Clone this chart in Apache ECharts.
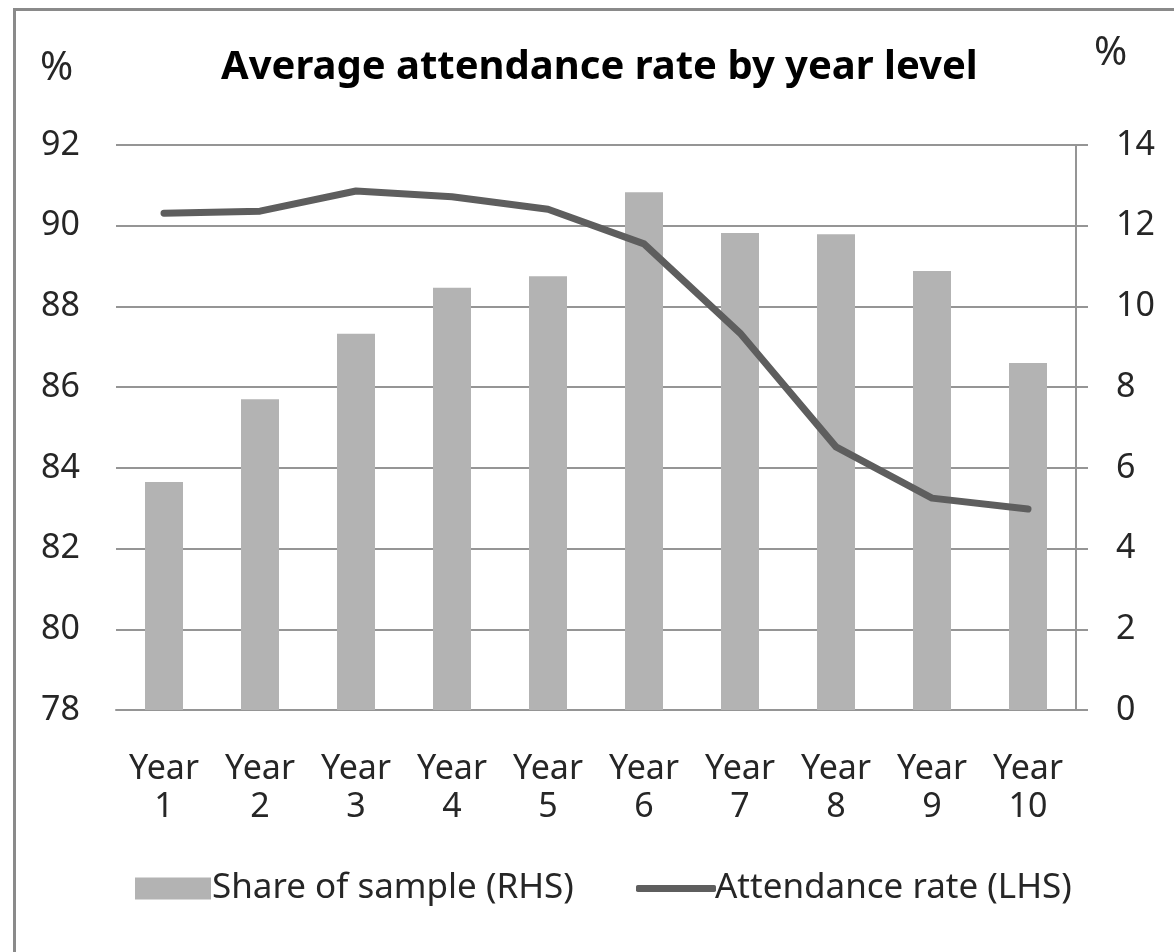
<!DOCTYPE html>
<html>
<head>
<meta charset="utf-8">
<script src="https://cdn.jsdelivr.net/npm/echarts@6/dist/echarts.min.js"></script>
<style>html,body{margin:0;padding:0;background:#fff;}#chart{width:1174px;height:952px;}</style>
</head>
<body>
<div id="chart"></div>
<script>
const categories = ['Year\n1','Year\n2','Year\n3','Year\n4','Year\n5','Year\n6','Year\n7','Year\n8','Year\n9','Year\n10'];
const shareOfSample = [5.65, 7.7, 9.32, 10.46, 10.75, 12.83, 11.82, 11.79, 10.88, 8.6];
const attendanceRate = [90.31, 90.36, 90.86, 90.72, 90.41, 89.55, 87.34, 84.52, 83.25, 82.98];
const leftAxisRange = {min: 78, max: 92, interval: 2};
const rightAxisRange = {min: 0, max: 14, interval: 2};
const titleText = 'Average attendance rate by year level';
const seriesNames = ['Share of sample (RHS)', 'Attendance rate (LHS)'];

const FONT = 'Noto Sans';
const TXT = '#262626';
const GRID = '#959595';
const BAR = '#b3b3b3';
const LINE = '#5e5e5e';

const chart = echarts.init(document.getElementById('chart'));
chart.setOption({
  backgroundColor: '#ffffff',
  animation: false,
  title: {
    text: titleText,
    left: 216,
    top: 43,
    textStyle: {fontFamily: FONT, fontSize: 40, fontWeight: 'bold', color: '#000'}
  },
  graphic: [
    {type: 'rect', left: 12, top: 7, shape: {width: 1250, height: 1050}, style: {fill: 'none', stroke: '#8a8a8a', lineWidth: 3}, silent: true},
    {type: 'text', left: 40, top: 49, style: {text: '%', fontSize: 40, fontFamily: FONT, fill: TXT}},
    {type: 'text', left: 1094, top: 34, style: {text: '%', fontSize: 40, fontFamily: FONT, fill: TXT}}
  ],
  legend: [
    {
      left: 130,
      top: 866,
      itemWidth: 76,
      itemHeight: 22,
      icon: 'rect',
      textStyle: {fontFamily: FONT, fontSize: 35, color: TXT, padding: [0, 0, 0, -4]},
      data: [seriesNames[0]]
    },
    {
      left: 631,
      top: 866,
      itemWidth: 80,
      itemHeight: 7,
      icon: 'roundRect',
      textStyle: {fontFamily: FONT, fontSize: 35, color: TXT, padding: [0, 0, 0, -6]},
      data: [seriesNames[1]]
    }
  ],
  grid: {left: 116, right: 98, top: 145, bottom: 242, containLabel: false},
  xAxis: {
    type: 'category',
    data: categories,
    axisLine: {show: true, lineStyle: {color: GRID, width: 2}},
    axisTick: {show: false},
    axisLabel: {fontFamily: FONT, fontSize: 34, color: TXT, margin: 40, lineHeight: 38, interval: 0}
  },
  yAxis: [
    {
      type: 'value',
      min: leftAxisRange.min, max: leftAxisRange.max, interval: leftAxisRange.interval,
      position: 'left',
      axisLine: {show: false},
      axisTick: {show: false},
      splitLine: {show: true, lineStyle: {color: GRID, width: 2}},
      axisLabel: {fontFamily: FONT, fontSize: 34, color: TXT, margin: 36}
    },
    {
      type: 'value',
      min: rightAxisRange.min, max: rightAxisRange.max, interval: rightAxisRange.interval,
      position: 'right',
      axisLine: {show: true, lineStyle: {color: GRID, width: 2}},
      axisTick: {show: true, length: 12, lineStyle: {color: GRID, width: 2}},
      splitLine: {show: false},
      axisLabel: {fontFamily: FONT, fontSize: 34, color: TXT, margin: 40}
    }
  ],
  series: [
    {
      name: seriesNames[0],
      type: 'bar',
      yAxisIndex: 1,
      data: shareOfSample,
      barWidth: 38,
      itemStyle: {color: BAR},
      z: 2
    },
    {
      name: seriesNames[1],
      type: 'line',
      yAxisIndex: 0,
      data: attendanceRate,
      symbol: 'none',
      smooth: false,
      lineStyle: {color: LINE, width: 7, cap: 'round', join: 'round'},
      itemStyle: {color: LINE},
      z: 3
    }
  ]
});
</script>
</body>
</html>
